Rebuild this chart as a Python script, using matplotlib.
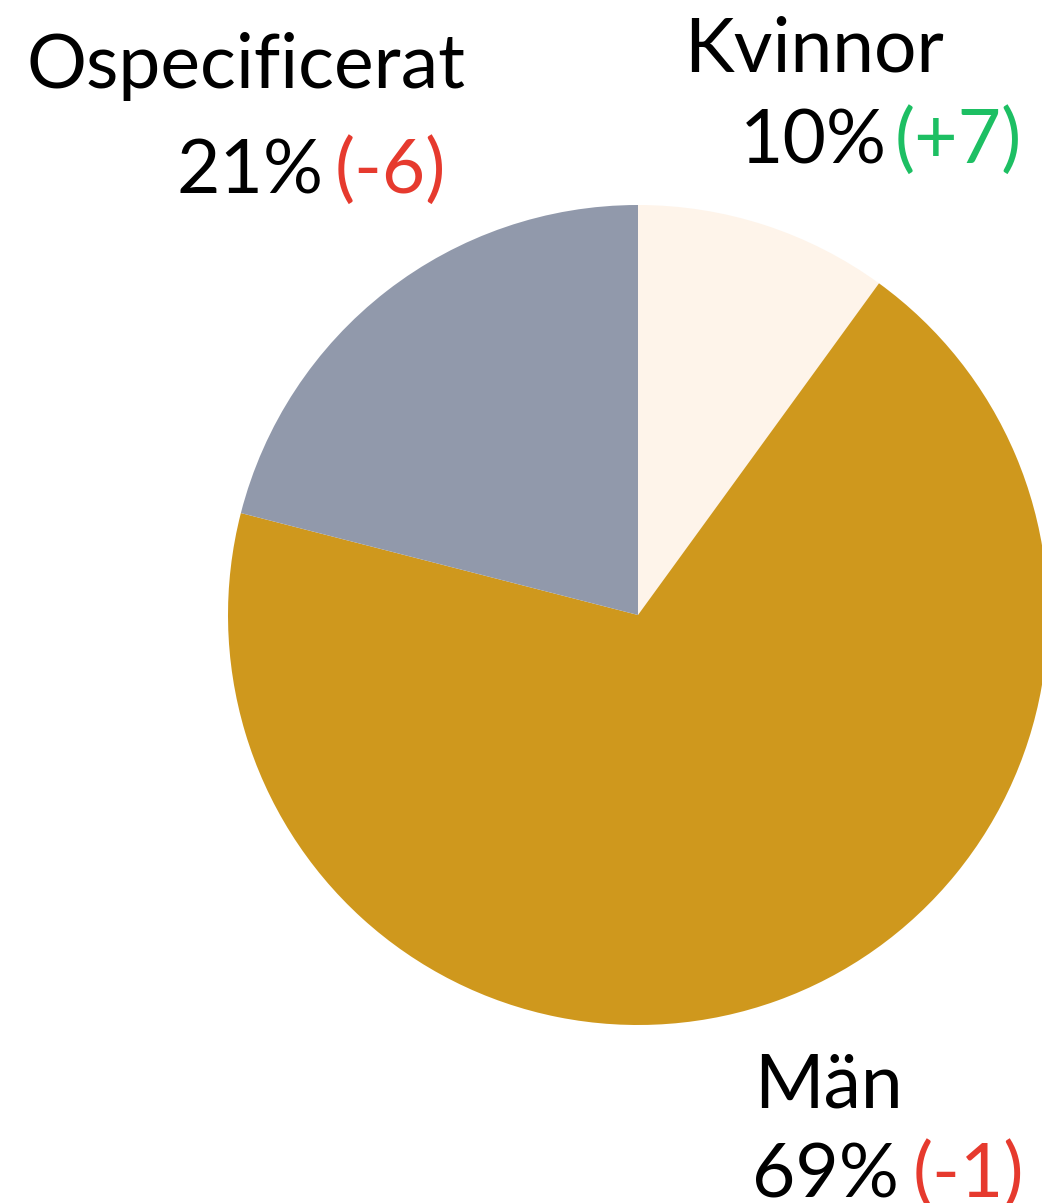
"""
Pie chart of the gender split, with change since last period.
"""

import matplotlib.pyplot as plt

# slice data, clockwise from twelve o'clock
labels = ['Kvinnor', 'Män', 'Ospecificerat']
shares = [10, 69, 21]
changes = [7, -1, -6]
colors = ['#FEF4EA', '#CF981D', '#9199AB']

GREEN = '#1DBF63'
RED = '#E63A2E'
FONT = 'Lato'
SIZE = 54

W, H = 1042, 1203
fig = plt.figure(figsize=(W / 100, H / 100), dpi=100)
ax = fig.add_axes([0, 0, 1, 1])

ax.pie(shares, colors=colors, startangle=90, counterclock=False,
       center=(638, H - 615), radius=410, frame=True,
       wedgeprops=dict(linewidth=0))
ax.set_xlim(0, W)
ax.set_ylim(0, H)
ax.set_aspect('equal')
ax.axis('off')

# label positions in pixels from the top: name, share, change
pos = {
    'Kvinnor': ((684, 72), (740, 163), (895, 163)),
    'Män': ((754, 1108), (752, 1197), (913, 1197)),
    'Ospecificerat': ((27, 88), (177, 193), (335, 193)),
}

for lab, share, chg in zip(labels, shares, changes):
    (nx, ny), (px, py), (cx, cy) = pos[lab]
    ax.text(nx, H - ny, lab, fontsize=SIZE, family=FONT,
            ha='left', va='baseline', color='black')
    ax.text(px, H - py, f'{share}%', fontsize=SIZE, family=FONT,
            ha='left', va='baseline', color='black')
    ax.text(cx, H - cy, f'({chg:+d})', fontsize=SIZE, family=FONT,
            ha='left', va='baseline', color=GREEN if chg > 0 else RED)

plt.savefig('out.png', dpi=100)
